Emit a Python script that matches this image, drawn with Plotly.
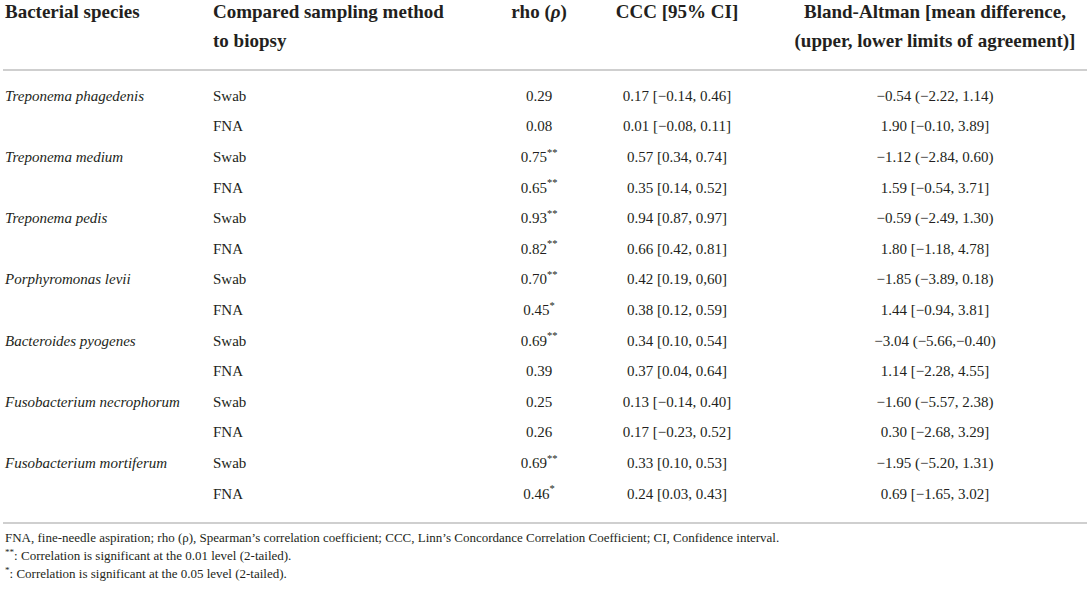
import plotly.graph_objects as go

# table content
species = [
    "Treponema phagedenis", "Treponema medium", "Treponema pedis",
    "Porphyromonas levii", "Bacteroides pyogenes",
    "Fusobacterium necrophorum", "Fusobacterium mortiferum",
]
methods = ["Swab", "FNA"] * 7
rho = [
    "0.29", "0.08", "0.75**", "0.65**", "0.93**", "0.82**", "0.70**",
    "0.45*", "0.69**", "0.39", "0.25", "0.26", "0.69**", "0.46*",
]
ccc = [
    "0.17 [−0.14, 0.46]", "0.01 [−0.08, 0.11]", "0.57 [0.34, 0.74]",
    "0.35 [0.14, 0.52]", "0.94 [0.87, 0.97]", "0.66 [0.42, 0.81]",
    "0.42 [0.19, 0,60]", "0.38 [0.12, 0.59]", "0.34 [0.10, 0.54]",
    "0.37 [0.04, 0.64]", "0.13 [−0.14, 0.40]", "0.17 [−0.23, 0.52]",
    "0.33 [0.10, 0.53]", "0.24 [0.03, 0.43]",
]
bland_altman = [
    "−0.54 (−2.22, 1.14)", "1.90 [−0.10, 3.89]", "−1.12 (−2.84, 0.60)",
    "1.59 [−0.54, 3.71]", "−0.59 (−2.49, 1.30)", "1.80 [−1.18, 4.78]",
    "−1.85 (−3.89, 0.18)", "1.44 [−0.94, 3.81]", "−3.04 (−5.66,−0.40)",
    "1.14 [−2.28, 4.55]", "−1.60 (−5.57, 2.38)", "0.30 [−2.68, 3.29]",
    "−1.95 (−5.20, 1.31)", "0.69 [−1.65, 3.02]",
]
header_line1 = ["Bacterial species", "Compared sampling method", "rho (<i>ρ</i>)",
                "CCC [95% CI]", "Bland-Altman [mean difference,"]
header_line2 = ["", "to biopsy", "", "", "(upper, lower limits of agreement)]"]
footnotes = [
    "FNA, fine-needle aspiration; rho (ρ), Spearman’s correlation coefficient; "
    "CCC, Linn’s Concordance Correlation Coefficient; CI, Confidence interval.",
    "<sup>**</sup>: Correlation is significant at the 0.01 level (2-tailed).",
    "<sup>*</sup>: Correlation is significant at the 0.05 level (2-tailed).",
]

W, H = 1091, 593
FONT = "Liberation Serif, Times New Roman, serif"
INK = "#231f20"
RULE = "#cfcfcf"

col_x = [5, 213, 539, 677, 935]
col_pos = ["middle right", "middle right", "middle center", "middle center", "middle center"]
row_top, row_pitch = 97, 30.6
row_y = [row_top + i * row_pitch for i in range(len(methods))]


def stars(s):
    n = len(s) - len(s.rstrip("*"))
    return s if n == 0 else s[:-n] + "<sup>" + "*" * n + "</sup>"


fig = go.Figure()

# header (two lines, second only where the column has one)
for j in range(5):
    xs, ys, ts = [col_x[j]], [13], ["<b>" + header_line1[j] + "</b>"]
    if header_line2[j]:
        xs.append(col_x[j]); ys.append(42); ts.append("<b>" + header_line2[j] + "</b>")
    fig.add_trace(go.Scatter(
        x=xs, y=ys, text=ts,
        mode="text", textposition=col_pos[j],
        textfont=dict(family=FONT, size=19, color=INK),
        hoverinfo="skip",
    ))

# body: species name sits on the Swab row of each pair
body = [
    (row_y[0::2], ["<i>" + sp + "</i>" for sp in species]),
    (row_y, methods),
    (row_y, [stars(r) for r in rho]),
    (row_y, ccc),
    (row_y, bland_altman),
]
for j, (ys, ts) in enumerate(body):
    fig.add_trace(go.Scatter(
        x=[col_x[j]] * len(ys), y=ys, text=ts,
        mode="text", textposition=col_pos[j],
        textfont=dict(family=FONT, size=15, color=INK),
        hoverinfo="skip",
    ))

# footnotes
fig.add_trace(go.Scatter(
    x=[5] * 3, y=[539, 557, 575], text=footnotes,
    mode="text", textposition="middle right",
    textfont=dict(family=FONT, size=13, color=INK),
    hoverinfo="skip",
))

# horizontal rules
for yy in (70, 523):
    fig.add_shape(type="line", x0=3, x1=1087, y0=yy, y1=yy,
                  xref="x", yref="y", line=dict(color=RULE, width=2))

fig.update_layout(
    width=W, height=H,
    margin=dict(l=0, r=0, t=0, b=0),
    paper_bgcolor="white", plot_bgcolor="white",
    showlegend=False,
    xaxis=dict(range=[0, W], visible=False, fixedrange=True),
    yaxis=dict(range=[H, 0], visible=False, fixedrange=True),
)

fig.write_html("out.html", config={"displayModeBar": False},
               post_script="document.body.style.margin='0';")
